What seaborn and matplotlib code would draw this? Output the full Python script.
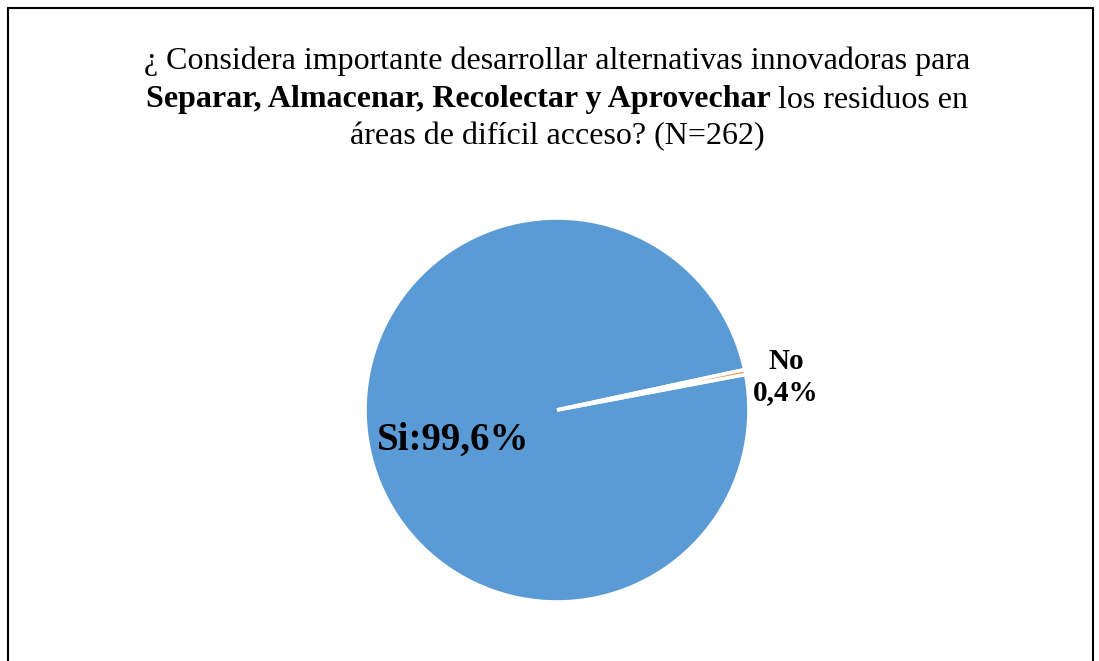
import matplotlib.pyplot as plt
import seaborn as sns
from matplotlib.lines import Line2D

# Data
labels = ["Si", "No"]
values = [99.6, 0.4]
title_l1 = "¿ Considera importante desarrollar alternativas innovadoras para"
title_bold = "Separar, Almacenar, Recolectar y Aprovechar"
title_rest = " los residuos en"
title_l3 = "áreas de difícil acceso? (N=262)"

sns.set_theme(style="white")
plt.rcParams['font.family'] = ['Liberation Serif', 'DejaVu Serif']
plt.rcParams['text.color'] = 'black'

colors = sns.color_palette(["#5B9BD5", "#ED7D31"])

fig = plt.figure(figsize=(10.99, 6.61), dpi=100)
W, H = 1099, 661

# pie axes: center (557, 410), radius 192 px
cx, cy, r = 557, 410, 192
ax = fig.add_axes([(cx - r) / W, (H - cy - r) / H, 2 * r / W, 2 * r / H])
ax.pie(values, colors=colors, startangle=10.7, counterclock=False,
       wedgeprops=dict(edgecolor="white", linewidth=2.6))
ax.set_xlim(-1, 1)
ax.set_ylim(-1, 1)
ax.set_aspect("equal")
ax.axis("off")

# slice labels
fig.text(377 / W, 1 - 440 / H, f"{labels[0]}:{values[0]:.1f}%".replace(".", ","),
         fontsize=28, fontweight="bold", ha="left", va="center")
fig.text(786 / W, 1 - 377 / H, f"{labels[1]}\n{values[1]:.1f}%".replace(".", ","),
         fontsize=21, fontweight="bold", ha="center", va="center", linespacing=1.15)

# title
fs = 23
fig.text(cx / W, 1 - 61 / H, title_l1, fontsize=fs, ha="center", va="center")
fig.text(cx / W, 1 - 137 / H, title_l3, fontsize=fs, ha="center", va="center")

renderer = fig.canvas.get_renderer()
tb = fig.text(0, 1 - 100 / H, title_bold, fontsize=fs, fontweight="bold", ha="left", va="center")
tr = fig.text(0, 1 - 100 / H, title_rest, fontsize=fs, ha="left", va="center")
wb = tb.get_window_extent(renderer).width
wr = tr.get_window_extent(renderer).width
x0 = cx - (wb + wr) / 2
tb.set_x(x0 / W)
tr.set_x((x0 + wb) / W)

# frame (no bottom edge)
lw = 1.5
fig.add_artist(Line2D([8 / W, 8 / W], [0, 1 - 8 / H], color="black", lw=lw))
fig.add_artist(Line2D([8 / W, 1093 / W], [1 - 8 / H, 1 - 8 / H], color="black", lw=lw))
fig.add_artist(Line2D([1093 / W, 1093 / W], [0, 1 - 8 / H], color="black", lw=lw))

fig.savefig("out.png", dpi=100)
